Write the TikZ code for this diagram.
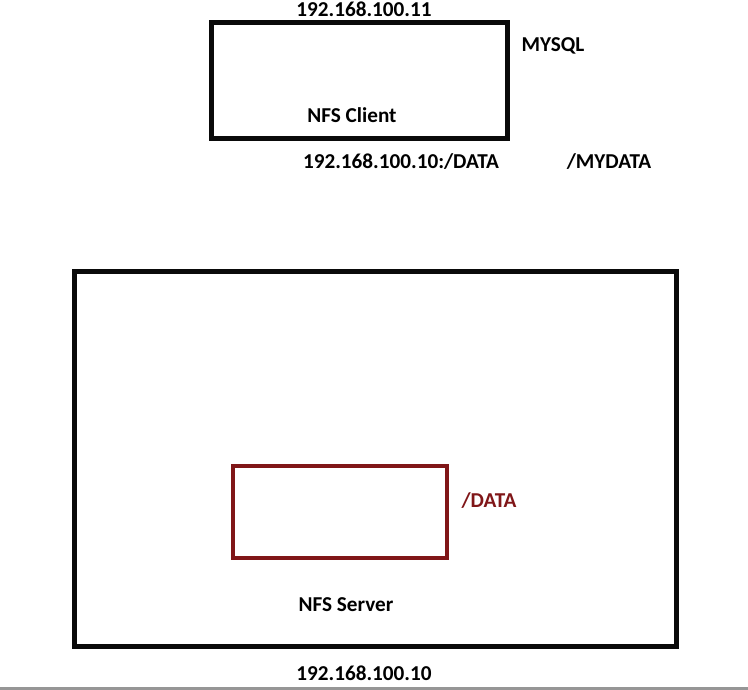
\documentclass[tikz,border=0pt]{standalone}
\usepackage{fontspec}
\setmainfont{Carlito}
\usepackage{tikz}
\usetikzlibrary{positioning}
\definecolor{nfsedge}{RGB}{10,10,10}
\definecolor{nfsred}{RGB}{128,22,24}
\definecolor{nfsrule}{RGB}{150,150,150}
\tikzset{
  host/.style={
    draw=nfsedge, line width=5pt, minimum width=#1, inner sep=0pt, outer sep=0pt
  },
  share/.style={
    draw=nfsred, line width=4.4pt, inner sep=0pt, outer sep=0pt
  },
  lbl/.style={font=\fontsize{21.2}{23}\selectfont\bfseries, text=black, inner sep=0pt},
  rlbl/.style={lbl, text=nfsred},
  every picture/.append style={line join=miter}
}
\begin{document}
\begin{tikzpicture}[x=1pt, y=-1pt]
  \useasboundingbox (0,0) rectangle (748,690);
  % client side
  \node[host=296pt, minimum height=116pt] (client) at (359,81) {};
  \node[lbl] (clientip) at (364,9) {192.168.100.11};
  \node[lbl] (mysql) at (553,46) {MYSQL};
  \node[lbl] (clientname) at (352,115) {NFS Client};
  \node[lbl] (mountsrc) at (401,162) {192.168.100.10:/DATA};
  \node[lbl] (mountdst) at (609,162) {/MYDATA};
  % server side
  \node[host=602pt, minimum height=374pt] (server) at (375,459) {};
  \node[share, minimum width=214pt, minimum height=92pt] (export) at (340,512) {};
  \node[rlbl] (exportname) at (489,501) {/DATA};
  \node[lbl] (servername) at (346,605) {NFS Server};
  \node[lbl] (serverip) at (364,673) {192.168.100.10};
  % screenshot edge
  \fill[nfsrule] (0,687) rectangle (748,690);
\end{tikzpicture}
\end{document}
